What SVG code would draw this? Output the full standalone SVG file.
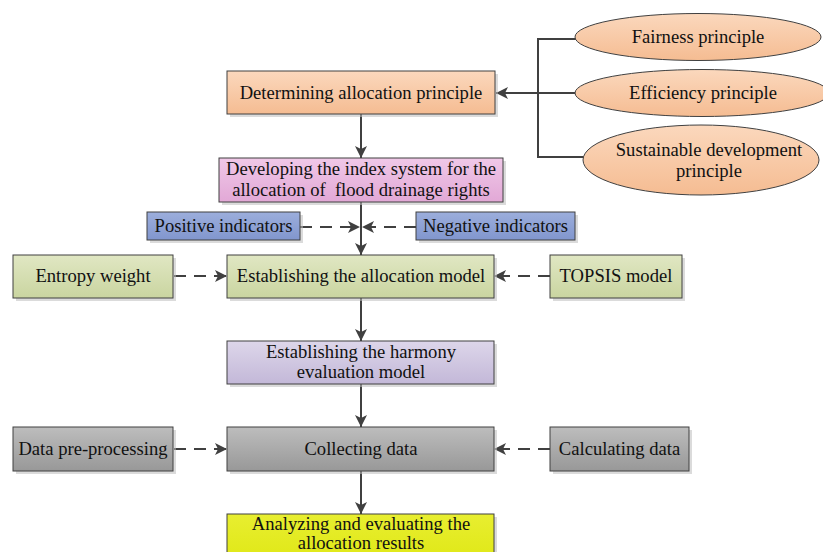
<svg xmlns="http://www.w3.org/2000/svg" width="823" height="552" viewBox="0 0 823 552">
<defs>
<linearGradient id="gOr" x1="0" y1="0" x2="0" y2="1"><stop offset="0" stop-color="#FBD8BD"/><stop offset="1" stop-color="#F5BC92"/></linearGradient>
<linearGradient id="gPk" x1="0" y1="0" x2="0" y2="1"><stop offset="0" stop-color="#F0C8E8"/><stop offset="1" stop-color="#E2A8D6"/></linearGradient>
<linearGradient id="gBl" x1="0" y1="0" x2="0" y2="1"><stop offset="0" stop-color="#9CAEDC"/><stop offset="1" stop-color="#8196CE"/></linearGradient>
<linearGradient id="gGr" x1="0" y1="0" x2="0" y2="1"><stop offset="0" stop-color="#E0E7C3"/><stop offset="1" stop-color="#CAD5A0"/></linearGradient>
<linearGradient id="gLv" x1="0" y1="0" x2="0" y2="1"><stop offset="0" stop-color="#DDD6EA"/><stop offset="1" stop-color="#C3B8D8"/></linearGradient>
<linearGradient id="gGy" x1="0" y1="0" x2="0" y2="1"><stop offset="0" stop-color="#BDBDBD"/><stop offset="1" stop-color="#989898"/></linearGradient>
<linearGradient id="gYe" x1="0" y1="0" x2="0" y2="1"><stop offset="0" stop-color="#E8EE30"/><stop offset="1" stop-color="#E0E818"/></linearGradient>
<marker id="ah" viewBox="0 0 12 12" refX="12" refY="6" markerWidth="12" markerHeight="12" markerUnits="userSpaceOnUse" orient="auto">
<path d="M0,0 L12,6 L0,12 L3,6 Z" fill="#404040"/>
</marker>
</defs>
<style>
.box{stroke:#404040;stroke-width:1}
.sh{fill:#BEBEBE;opacity:0.55}
.t{font-family:"Liberation Serif","Times New Roman",serif;font-size:18.6px;fill:#111;text-anchor:middle}
.ln{stroke:#404040;stroke-width:2;fill:none}
.ar{stroke:#404040;stroke-width:2;fill:none;marker-end:url(#ah)}
.da{stroke:#404040;stroke-width:2;fill:none;stroke-dasharray:12 8;marker-end:url(#ah)}
</style>
<rect width="823" height="552" fill="#fff"/>

<g id="connectors">
<path class="ln" d="M576,39 H538 V157 H584"/>
<path class="ar" d="M576,93 H496"/>
<path class="ar" d="M361,114 V158"/>
<path class="ar" d="M361,202 V255"/>
<path class="da" d="M300,227 H360"/>
<path class="da" d="M416,227 H362"/>
<path class="da" d="M174,276 H227"/>
<path class="da" d="M550,276 H494"/>
<path class="ar" d="M361,298 V341"/>
<path class="ar" d="M361,384 V427"/>
<path class="da" d="M174,449 H227"/>
<path class="da" d="M550,449 H494"/>
<path class="ar" d="M361,471 V514"/>
</g>

<g id="fairness">
<ellipse cx="698" cy="37" rx="123" ry="23.5" fill="url(#gOr)" class="box"/>
<text class="t" x="698" y="43">Fairness principle</text>
</g>
<g id="efficiency">
<ellipse cx="702" cy="93" rx="127" ry="23.5" fill="url(#gOr)" class="box"/>
<text class="t" x="703" y="99">Efficiency principle</text>
</g>
<g id="sustainable">
<ellipse cx="701" cy="160" rx="118" ry="35" fill="url(#gOr)" class="box"/>
<text class="t" x="709" y="156">Sustainable development</text>
<text class="t" x="709" y="177">principle</text>
</g>

<g id="determining">
<rect class="sh" x="230" y="74" width="268" height="43"/>
<rect class="box" x="227" y="71" width="268" height="43" fill="url(#gOr)"/>
<text class="t" x="361" y="99">Determining allocation principle</text>
</g>
<g id="developing">
<rect class="sh" x="222" y="161" width="284" height="44"/>
<rect class="box" x="219" y="158" width="284" height="44" fill="url(#gPk)"/>
<text class="t" x="361" y="175">Developing the index system for the</text>
<text class="t" x="361" y="196" xml:space="preserve">allocation of  flood drainage rights</text>
</g>
<g id="positive">
<rect class="sh" x="150" y="215" width="153" height="28"/>
<rect class="box" x="147" y="212" width="153" height="28" fill="url(#gBl)"/>
<text class="t" x="223.5" y="232">Positive indicators</text>
</g>
<g id="negative">
<rect class="sh" x="419" y="215" width="159" height="28"/>
<rect class="box" x="416" y="212" width="159" height="28" fill="url(#gBl)"/>
<text class="t" x="495.5" y="232">Negative indicators</text>
</g>
<g id="entropy">
<rect class="sh" x="16" y="258" width="160" height="43"/>
<rect class="box" x="13" y="255" width="160" height="43" fill="url(#gGr)"/>
<text class="t" x="93" y="282">Entropy weight</text>
</g>
<g id="allocation-model">
<rect class="sh" x="230" y="258" width="267" height="43"/>
<rect class="box" x="227" y="255" width="267" height="43" fill="url(#gGr)"/>
<text class="t" x="361" y="282">Establishing the allocation model</text>
</g>
<g id="topsis">
<rect class="sh" x="553" y="258" width="132" height="43"/>
<rect class="box" x="550" y="255" width="132" height="43" fill="url(#gGr)"/>
<text class="t" x="616" y="282">TOPSIS model</text>
</g>
<g id="harmony">
<rect class="sh" x="230" y="344" width="267" height="43"/>
<rect class="box" x="227" y="341" width="267" height="43" fill="url(#gLv)"/>
<text class="t" x="361" y="358">Establishing the harmony</text>
<text class="t" x="361" y="378">evaluation model</text>
</g>
<g id="preprocessing">
<rect class="sh" x="16" y="430" width="160" height="44"/>
<rect class="box" x="13" y="427" width="160" height="44" fill="url(#gGy)"/>
<text class="t" x="93" y="455">Data pre-processing</text>
</g>
<g id="collecting">
<rect class="sh" x="230" y="430" width="267" height="44"/>
<rect class="box" x="227" y="427" width="267" height="44" fill="url(#gGy)"/>
<text class="t" x="361" y="455">Collecting data</text>
</g>
<g id="calculating">
<rect class="sh" x="553" y="430" width="139" height="44"/>
<rect class="box" x="550" y="427" width="139" height="44" fill="url(#gGy)"/>
<text class="t" x="619.5" y="455">Calculating data</text>
</g>
<g id="analyzing">
<rect class="sh" x="230" y="517" width="267" height="44"/>
<rect class="box" x="227" y="514" width="267" height="44" fill="url(#gYe)"/>
<text class="t" x="361" y="530">Analyzing and evaluating the</text>
<text class="t" x="361" y="549">allocation results</text>
</g>
</svg>
